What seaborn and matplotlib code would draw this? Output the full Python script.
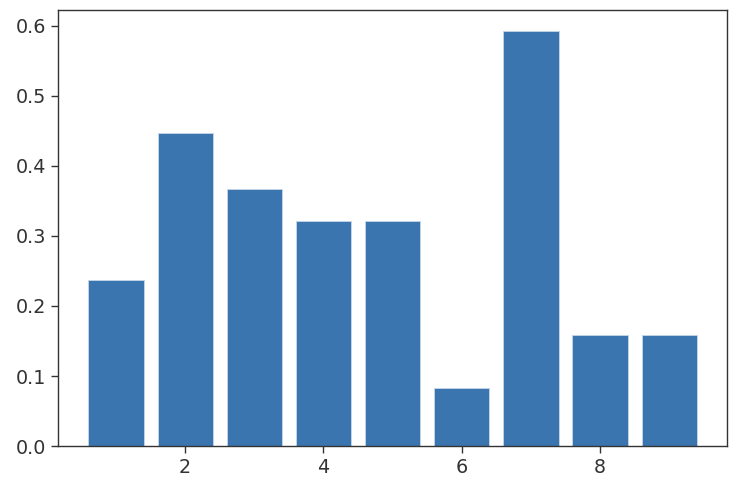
import numpy as np
import pandas as pd
import matplotlib
matplotlib.use("Agg")
import matplotlib.pyplot as plt
import seaborn as sns

# bar positions and heights
positions = [1, 2, 3, 4, 5, 6, 7, 8, 9]
heights = [0.237, 0.447, 0.367, 0.321, 0.321, 0.083, 0.592, 0.158, 0.158]

df = pd.DataFrame({"x": positions, "y": heights})

fig, ax = plt.subplots(figsize=(7.38, 4.86), dpi=100)
fig.subplots_adjust(left=0.079, right=0.985, top=0.979, bottom=0.082)

sns.barplot(data=df, x="x", y="y", native_scale=True, color="#3a75af",
            saturation=1, width=0.8, edgecolor="#c6d6e8", linewidth=0.6, ax=ax)

ax.set_xlabel("")
ax.set_ylabel("")
ax.set_xlim(0.165, 9.835)
ax.set_ylim(0, 0.622)
ax.set_xticks([2, 4, 6, 8])
ax.set_yticks([0.0, 0.1, 0.2, 0.3, 0.4, 0.5, 0.6])
ax.tick_params(labelsize=13.8, length=5, width=1, color="#333333", labelcolor="#333333")
for s in ax.spines.values():
    s.set_color("#333333")
    s.set_linewidth(1)

fig.savefig("out.png", dpi=100)
